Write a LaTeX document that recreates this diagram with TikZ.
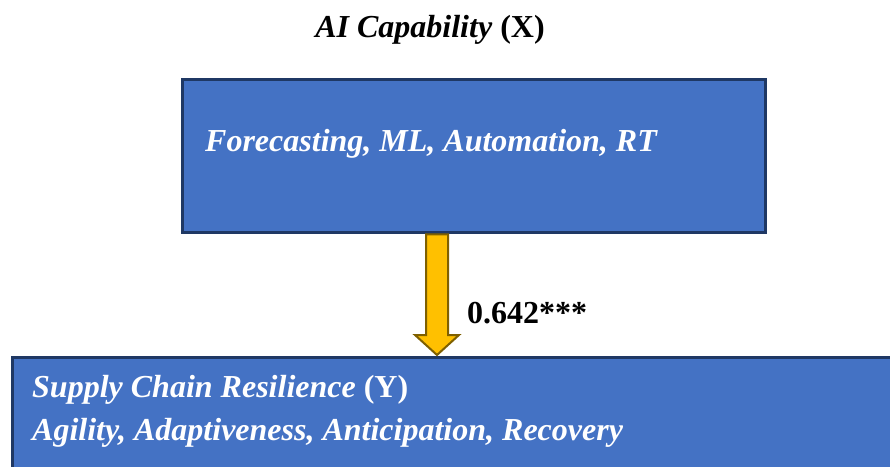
\documentclass[tikz,border=0pt]{standalone}
\usepackage{fontspec}
\setmainfont{Liberation Serif}
\usetikzlibrary{calc}
\definecolor{boxblue}{HTML}{4472C4}
\definecolor{boxline}{HTML}{1F3864}
\definecolor{arrowgold}{HTML}{FFC000}
\definecolor{arrowline}{HTML}{7F6000}
\newcommand{\diagfont}{\fontsize{32}{38}\selectfont\bfseries}

\begin{document}
\begin{tikzpicture}[x=1pt,y=1pt,
  varbox/.style={draw=boxline,line width=3pt,fill=boxblue,inner sep=0pt},
  boxtext/.style={text=white,inner sep=0pt,font=\diagfont}]
\useasboundingbox (0,0) rectangle (890,466);
\node[font=\diagfont] (title) at (430,436) {\textit{AI Capability} (X)};
\node[varbox,minimum width=583pt,minimum height=153pt] (xbox) at (473.5,309.5) {};
\node[boxtext,anchor=base west] (xtext) at (205,314) {\textit{Forecasting, ML, Automation, RT}};
\node[varbox,anchor=north west,minimum width=920pt,minimum height=150pt] (ybox) at (11,110) {};
\node[boxtext,anchor=base west] (ytext) at (32,69) {\textit{Supply Chain Resilience} (Y)};
\node[boxtext,anchor=base west] (ytext2) at (32,26) {\textit{Agility, Adaptiveness, Anticipation, Recovery}};
\coordinate (atop) at (xbox.south -| 437,0);
\coordinate (atip) at (437,111);
\draw[draw=arrowline,fill=arrowgold,line width=2pt,line join=miter]
  ($(atop)+(-11,0)$) -- ($(atip)+(-11,20)$) -- ($(atip)+(-22,20)$) -- (atip)
  -- ($(atip)+(22,20)$) -- ($(atip)+(11,20)$) -- ($(atop)+(11,0)$) -- cycle;
\node[font=\diagfont,anchor=west,inner sep=0pt] (beta) at (467,153) {0.642***};
\end{tikzpicture}
\end{document}
